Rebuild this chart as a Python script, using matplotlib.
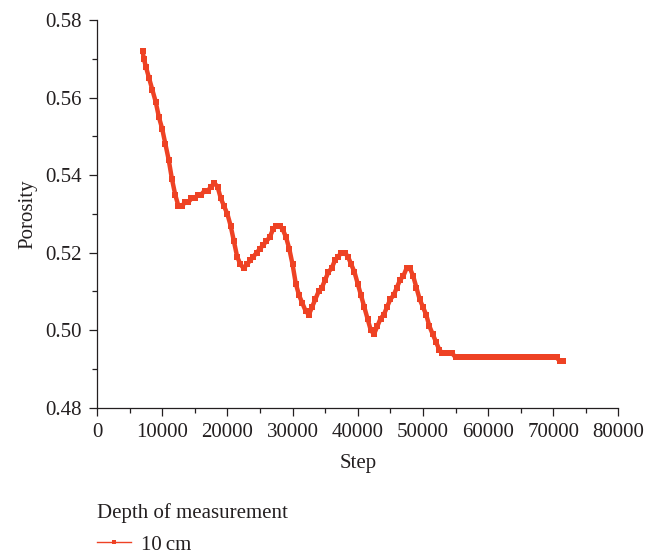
import numpy as np
import matplotlib
matplotlib.use("Agg")
import matplotlib.pyplot as plt
from matplotlib.lines import Line2D
from matplotlib.ticker import MultipleLocator

plt.rcParams['font.family'] = ['Liberation Serif', 'DejaVu Serif']
fs = 15

# porosity sampled along the run (10 cm depth)
steps = [
    7000, 7200, 7500, 8000, 8500, 9000, 9500, 10000, 10500, 11000, 11500, 12000,
    12500, 13000, 13500, 14000, 14500, 15000, 15500, 16000, 16500, 17000, 17500,
    18000, 18500, 19000, 19500, 20000, 20500, 21000, 21500, 22000, 22500, 23000,
    23500, 24000, 24500, 25000, 25500, 26000, 26500, 27000, 27500, 28000, 28500,
    29000, 29500, 30000, 30500, 31000, 31500, 32000, 32500, 33000, 33500, 34000,
    34500, 35000, 35500, 36000, 36500, 37000, 37500, 38000, 38500, 39000, 39500,
    40000, 40500, 41000, 41500, 42000, 42500, 43000, 43500, 44000, 44500, 45000,
    45500, 46000, 46500, 47000, 47500, 48000, 48500, 49000, 49500, 50000, 50500,
    51000, 51500, 52000, 52500, 53000, 53500, 54000, 54500, 55000, 55500, 56000,
    56500, 57000, 57500, 58000, 58500, 59000, 59500, 60000, 60500, 61000, 61500,
    62000, 62500, 63000, 63500, 64000, 64500, 65000, 65500, 66000, 66500, 67000,
    67500, 68000, 68500, 69000, 69500, 70000, 70500, 71000, 71500,
]
porosity = [
    0.572, 0.570, 0.568, 0.565, 0.562, 0.559, 0.555, 0.552, 0.548, 0.544, 0.539, 0.535,
    0.532, 0.532, 0.533, 0.533, 0.534, 0.534, 0.535, 0.535, 0.536, 0.536, 0.537,
    0.538, 0.537, 0.534, 0.532, 0.530, 0.527, 0.523, 0.519, 0.517, 0.516, 0.517,
    0.518, 0.519, 0.520, 0.521, 0.522, 0.523, 0.524, 0.526, 0.527, 0.527, 0.526,
    0.524, 0.521, 0.517, 0.512, 0.509, 0.507, 0.505, 0.504, 0.506, 0.508, 0.510,
    0.511, 0.513, 0.515, 0.516, 0.518, 0.519, 0.520, 0.520, 0.519, 0.517, 0.515,
    0.512, 0.509, 0.506, 0.503, 0.500, 0.499, 0.501, 0.503, 0.504, 0.506, 0.508,
    0.509, 0.511, 0.513, 0.514, 0.516, 0.516, 0.514, 0.511, 0.508, 0.506, 0.504,
    0.501, 0.499, 0.497, 0.495, 0.494, 0.494, 0.494, 0.494, 0.493, 0.493, 0.493,
    0.493, 0.493, 0.493, 0.493, 0.493, 0.493, 0.493, 0.493, 0.493, 0.493, 0.493,
    0.493, 0.493, 0.493, 0.493, 0.493, 0.493, 0.493, 0.493, 0.493, 0.493, 0.493,
    0.493, 0.493, 0.493, 0.493, 0.493, 0.493, 0.493, 0.492, 0.492,
]

red = '#EE4224'
ink = '#231F20'

fig = plt.figure(figsize=(6.61, 5.56), dpi=100)
ax = fig.add_axes([0.1467, 0.2667, 0.789, 0.697])

ax.plot(steps, porosity, color=red, linewidth=3.2, marker='s', markersize=3.8,
        markeredgewidth=0)

ax.set_xlim(0, 80000)
ax.set_ylim(0.48, 0.58)
ax.xaxis.set_major_locator(MultipleLocator(10000))
ax.xaxis.set_minor_locator(MultipleLocator(5000))
ax.yaxis.set_major_locator(MultipleLocator(0.02))
ax.yaxis.set_minor_locator(MultipleLocator(0.01))
ax.yaxis.set_major_formatter(plt.FormatStrFormatter('%.2f'))

for side in ['top', 'right']:
    ax.spines[side].set_visible(False)
for side in ['left', 'bottom']:
    ax.spines[side].set_linewidth(0.9)
    ax.spines[side].set_color(ink)
ax.tick_params(which='major', direction='out', length=6, width=0.9, color=ink,
               labelcolor=ink, labelsize=fs, pad=5)
ax.tick_params(which='minor', direction='out', length=3.5, width=0.9, color=ink)

ax.set_xlabel('Step', fontsize=fs, color=ink, labelpad=9)
ax.set_ylabel('Porosity', fontsize=fs, color=ink, labelpad=5.5)

# thin-line entry like the standard legend sample
handle = Line2D([], [], color=red, linewidth=1.0, marker='s', markersize=2.8,
                markeredgewidth=0)
leg = fig.legend([handle], ['10\u2009cm'], loc='upper left',
                 bbox_to_anchor=(0.1467, 0.096), frameon=False,
                 title='Depth of measurement', title_fontsize=fs, fontsize=fs,
                 alignment='left', handlelength=1.65, handletextpad=0.45,
                 borderpad=0, borderaxespad=0, labelspacing=0.3)
leg.get_title().set_color(ink)
for t in leg.get_texts():
    t.set_color(ink)
leg._legend_box.sep = 9

fig.savefig('out.png', dpi=100)
